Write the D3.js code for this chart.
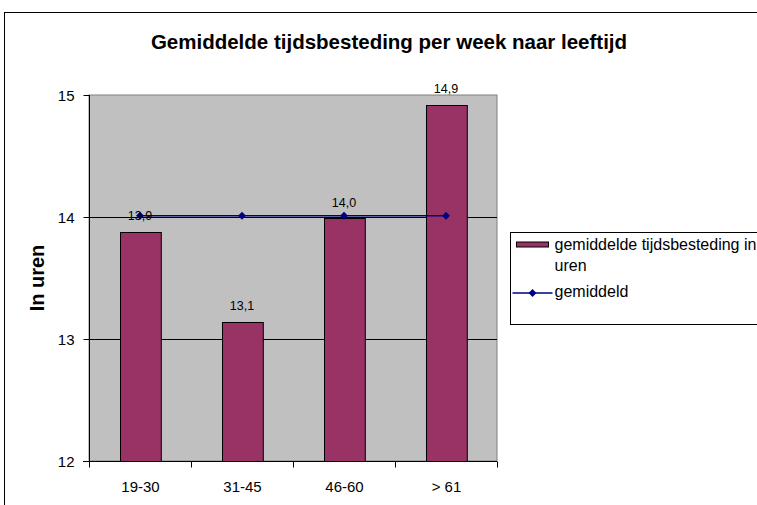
<!DOCTYPE html>
<html>
<head>
<meta charset="utf-8">
<script src="https://cdn.jsdelivr.net/npm/d3@7"></script>
<style>
  body { margin: 0; background: #fff; }
  svg { font-family: "Liberation Sans", Arial, sans-serif; }
</style>
</head>
<body>
<div id="chart"></div>
<script>
var categories = ["19-30", "31-45", "46-60", "> 61"];
var barValues = [13.88, 13.14, 13.99, 14.92];
var barLabels = ["13,9", "13,1", "14,0", "14,9"];
var avgValues = [14.01, 14.01, 14.01, 14.01];
var yTicks = [12, 13, 14, 15];

var width = 757, height = 505;
var plot = { left: 89, top: 95, right: 497, bottom: 461 };

var svg = d3.select("#chart").append("svg")
  .attr("width", width)
  .attr("height", height);

// outer chart border
svg.append("rect")
  .attr("x", 4.5).attr("y", 12.5)
  .attr("width", 770).attr("height", 510)
  .style("fill", "#fff").style("stroke", "#000").style("stroke-width", 1);

svg.append("text")
  .attr("x", 389).attr("y", 49)
  .attr("text-anchor", "middle")
  .style("font-size", "20.5px").style("font-weight", "bold")
  .text("Gemiddelde tijdsbesteding per week naar leeftijd");

var x = d3.scaleBand()
  .domain(categories)
  .range([plot.left, plot.right])
  .paddingInner(0.6).paddingOuter(0.3);

var xc = d3.scalePoint()
  .domain(categories)
  .range([plot.left, plot.right])
  .padding(0.5);

var y = d3.scaleLinear()
  .domain([12, 15])
  .range([plot.bottom, plot.top]);

// plot area
svg.append("rect")
  .attr("x", plot.left).attr("y", plot.top)
  .attr("width", plot.right - plot.left).attr("height", plot.bottom - plot.top)
  .style("fill", "#c0c0c0").style("stroke", "#808080");

// gridlines
svg.append("g").selectAll("line")
  .data(yTicks.slice(1, 3))
  .enter().append("line")
  .attr("x1", plot.left).attr("x2", plot.right)
  .attr("y1", function(d) { return Math.round(y(d)) + 0.5; })
  .attr("y2", function(d) { return Math.round(y(d)) + 0.5; })
  .style("stroke", "#000");

// bars
svg.append("g").selectAll("rect")
  .data(barValues)
  .enter().append("rect")
  .attr("x", function(d, i) { return Math.round(x(categories[i])) + 0.5; })
  .attr("y", function(d) { return Math.round(y(d)) + 0.5; })
  .attr("width", x.bandwidth())
  .attr("height", function(d) { return plot.bottom - Math.round(y(d)); })
  .style("fill", "#993366").style("stroke", "#000");

// average line
var line = d3.line()
  .x(function(d, i) { return xc(categories[i]); })
  .y(function(d) { return y(d); });

svg.append("path")
  .datum(avgValues)
  .attr("d", line)
  .style("fill", "none").style("stroke", "#000080").style("stroke-width", 1.5);

svg.append("g").selectAll("path")
  .data(avgValues)
  .enter().append("path")
  .attr("d", d3.symbol().type(d3.symbolDiamond2).size(40))
  .attr("transform", function(d, i) { return "translate(" + xc(categories[i]) + "," + y(d) + ")"; })
  .style("fill", "#000080");

// bar value labels
svg.append("g").selectAll("text")
  .data(barValues)
  .enter().append("text")
  .attr("x", function(d, i) { return xc(categories[i]); })
  .attr("y", function(d) { return y(d) - 11.5; })
  .attr("text-anchor", "middle")
  .style("font-size", "12.5px")
  .text(function(d, i) { return barLabels[i]; });

// axes
var yAxis = d3.axisLeft(y).tickValues(yTicks).tickSize(6).tickPadding(9).tickFormat(d3.format("d"));
var gy = svg.append("g")
  .attr("transform", "translate(" + (plot.left + 0.5) + ",0)")
  .call(yAxis);
gy.select(".domain").attr("d", "M0," + plot.top + "V" + (plot.bottom + 6));
gy.selectAll(".tick text").attr("dy", "0.36em");

var xAxis = d3.axisBottom(xc).tickSize(0).tickPadding(20);
var gx = svg.append("g")
  .attr("transform", "translate(0," + (plot.bottom + 0.5) + ")")
  .call(xAxis);
gx.select(".domain").attr("d", "M" + (plot.left - 6) + ",0H" + plot.right);

// category boundary ticks
var bounds = d3.range(categories.length + 1).map(function(i) { return plot.left + i * (plot.right - plot.left) / categories.length; });
gx.selectAll(".bound")
  .data(bounds)
  .enter().append("line")
  .attr("class", "bound")
  .attr("x1", function(d) { return Math.round(d) + 0.5; })
  .attr("x2", function(d) { return Math.round(d) + 0.5; })
  .attr("y1", 0).attr("y2", 6)
  .style("stroke", "#000");

svg.selectAll(".tick text").style("font-size", "15px").style("fill", "#000");
svg.selectAll(".domain, .tick line").style("stroke", "#000");

// y label
svg.append("text")
  .attr("transform", "translate(44,278) rotate(-90)")
  .attr("text-anchor", "middle")
  .style("font-size", "20px").style("font-weight", "bold")
  .text("In uren");

// legend
var lg = svg.append("g").attr("transform", "translate(510.5,232.5)");
lg.append("rect")
  .attr("width", 260).attr("height", 92)
  .style("fill", "#fff").style("stroke", "#000");
lg.append("rect")
  .attr("x", 6).attr("y", 9.5).attr("width", 32).attr("height", 5)
  .style("fill", "#993366").style("stroke", "#000");
lg.append("text")
  .attr("x", 44).attr("y", 17)
  .style("font-size", "16px")
  .text("gemiddelde tijdsbesteding in");
lg.append("text")
  .attr("x", 44).attr("y", 38)
  .style("font-size", "16px")
  .text("uren");
lg.append("line")
  .attr("x1", 2).attr("x2", 42).attr("y1", 60.5).attr("y2", 60.5)
  .style("stroke", "#000080").style("stroke-width", 1.5);
lg.append("path")
  .attr("d", d3.symbol().type(d3.symbolDiamond2).size(40))
  .attr("transform", "translate(22,60.5)")
  .style("fill", "#000080");
lg.append("text")
  .attr("x", 44).attr("y", 64)
  .style("font-size", "16px")
  .text("gemiddeld");
</script>
</body>
</html>
